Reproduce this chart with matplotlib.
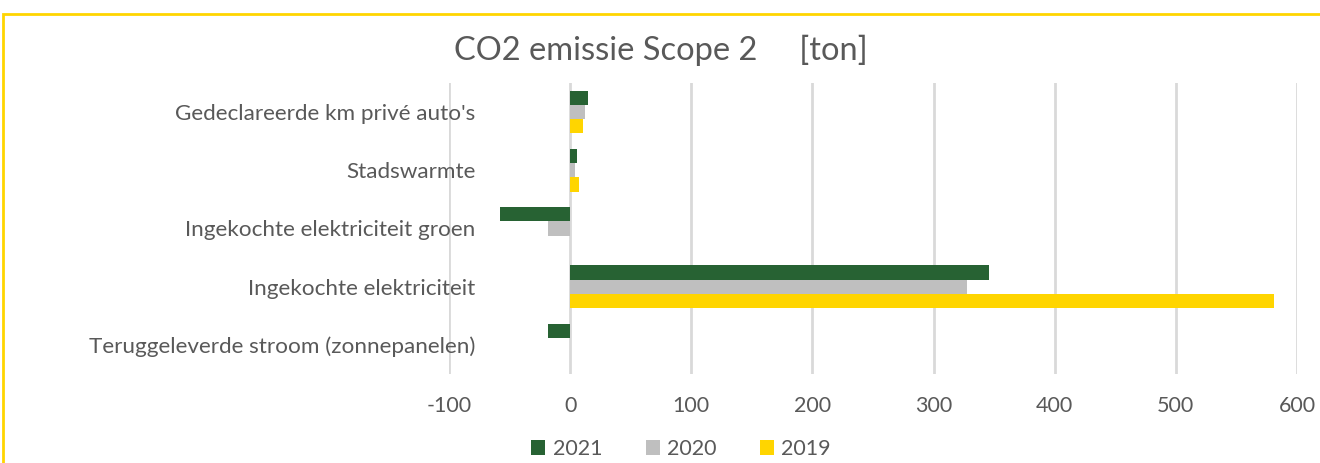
import numpy as np
import matplotlib.pyplot as plt
from matplotlib.patches import Rectangle

plt.rcParams['font.family'] = ['Lato', 'DejaVu Sans']

categories = ["Gedeclareerde km privé auto's", "Stadswarmte",
              "Ingekochte elektriciteit groen", "Ingekochte elektriciteit",
              "Teruggeleverde stroom (zonnepanelen)"]
years = ["2021", "2020", "2019"]
v2021 = [15, 6, -58, 346, -18]
v2020 = [12, 4, -18, 328, 0]
v2019 = [11, 7, 0, 581, 0]
xticks = [-100, 0, 100, 200, 300, 400, 500, 600]

colors = ["#276233", "#BFBFBF", "#FFD500"]
txt = "#595959"

fig = plt.figure(figsize=(13.2, 4.63), dpi=100)
ax = fig.add_axes([449 / 1320, 1 - 374 / 463, (1297 - 449) / 1320, (374 - 83) / 463])

y = np.arange(len(categories))
h = 0.245
for i, (vals, lab) in enumerate(zip([v2021, v2020, v2019], years)):
    ax.barh(y + (i - 1) * h, vals, height=h, color=colors[i], label=lab, zorder=3)

ax.set_ylim(len(categories) - 0.5, -0.5)
ax.set_xlim(-100, 600)
ax.set_xticks(xticks)
ax.set_xticklabels([str(t) for t in xticks], fontsize=15.5, color=txt)
ax.set_yticks(y)
ax.set_yticklabels(categories, fontsize=16.2, color=txt)
ax.tick_params(length=0)
ax.tick_params(axis='x', pad=16)
# Excel draws the category labels over the left part of the plot area
ax.tick_params(axis='y', pad=-19)
ax.grid(axis='x', color="#d9d9d9", lw=2, zorder=0)
for s in ax.spines.values():
    s.set_visible(False)

fig.text(0.501, 1 - 50 / 463, "CO2 emissie Scope 2     [ton]", fontsize=23.5,
         color=txt, ha='center', va='center')

ax.legend(loc='center', bbox_to_anchor=(0.516, 1 - 449 / 463), bbox_transform=fig.transFigure,
          ncol=3, frameon=False, fontsize=15.5, labelcolor=txt, handlelength=0.65,
          handleheight=0.65, columnspacing=2.0, handletextpad=0.35)

fig.patches.append(Rectangle((3 / 1320, -0.1), 1.2, (1 - 14 / 463) + 0.1, transform=fig.transFigure,
                             fill=False, edgecolor="#FFD500", lw=2))

fig.savefig("out.png", dpi=100)
